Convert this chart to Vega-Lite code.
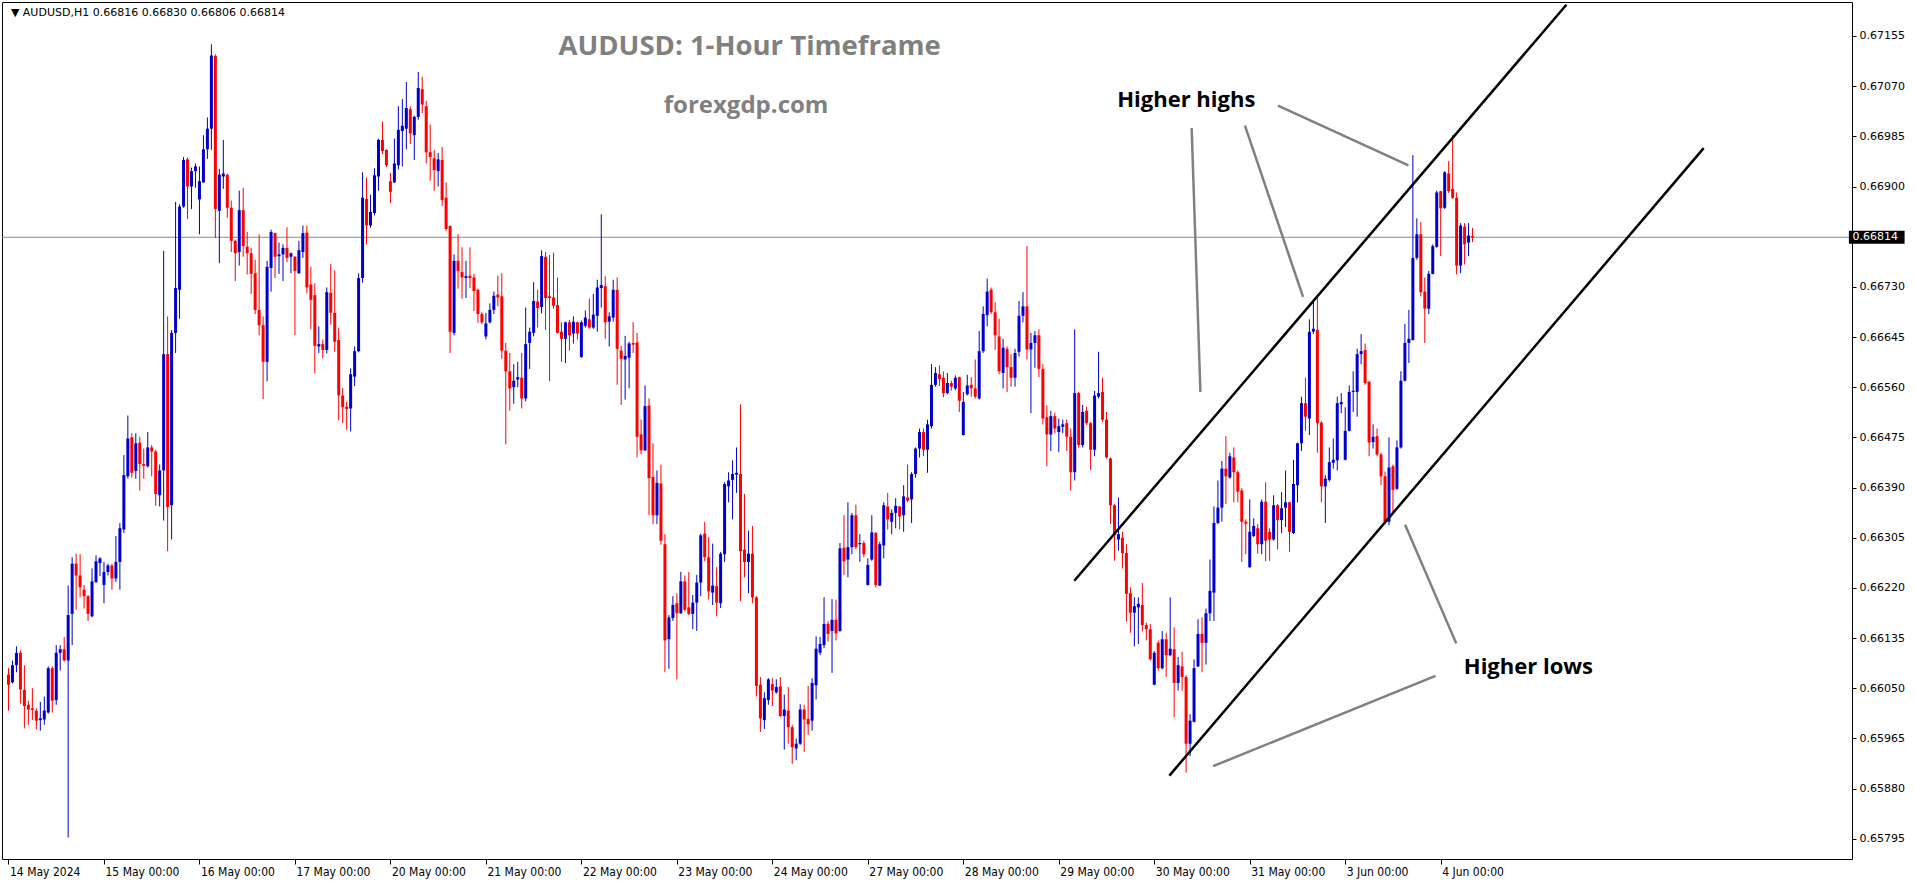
{
"$schema": "https://vega.github.io/schema/vega-lite/v6.json",
"width": 1850, "height": 857,
"autosize": {"type": "none"},
"padding": {"left": 2, "top": 2, "right": 64, "bottom": 25},
"background": "white",
"config": {
 "view": {"stroke": "#000000", "strokeWidth": 1},
 "axis": {"grid": false, "domain": false, "tickColor": "#000000", "labelColor": "#000000", "labelOverlap": false, "labelFlush": false, "labelBound": false},
 "axisX": {"labelAlign": "left", "labelBaseline": "top", "labelPadding": 2, "labelOffset": 1, "labelFont": "Liberation Sans Narrow, DejaVu Sans Condensed, Liberation Sans, sans-serif", "labelFontSize": 12, "tickSize": 5},
 "axisY": {"labelFont": "DejaVu Sans", "labelFontSize": 11, "tickSize": 4, "labelPadding": 3}
},
"datasets": {
"bars": [
{"i":0,"o":0.66073,"h":0.66084,"l":0.66012,"c":0.66056},
{"i":1,"o":0.66060,"h":0.66097,"l":0.66058,"c":0.66089},
{"i":2,"o":0.66089,"h":0.66121,"l":0.66077,"c":0.66110},
{"i":3,"o":0.66110,"h":0.66114,"l":0.66024,"c":0.66048},
{"i":4,"o":0.66047,"h":0.66089,"l":0.65982,"c":0.66020},
{"i":5,"o":0.66022,"h":0.66029,"l":0.65988,"c":0.66014},
{"i":6,"o":0.66016,"h":0.66050,"l":0.65996,"c":0.66013},
{"i":7,"o":0.66012,"h":0.66016,"l":0.65980,"c":0.65995},
{"i":8,"o":0.65996,"h":0.66027,"l":0.65978,"c":0.65999},
{"i":9,"o":0.65997,"h":0.66036,"l":0.65988,"c":0.66012},
{"i":10,"o":0.66009,"h":0.66087,"l":0.66007,"c":0.66084},
{"i":11,"o":0.66084,"h":0.66087,"l":0.66009,"c":0.66029},
{"i":12,"o":0.66030,"h":0.66123,"l":0.66022,"c":0.66110},
{"i":13,"o":0.66110,"h":0.66123,"l":0.66080,"c":0.66116},
{"i":14,"o":0.66116,"h":0.66137,"l":0.66095,"c":0.66097},
{"i":15,"o":0.66097,"h":0.66224,"l":0.65797,"c":0.66174},
{"i":16,"o":0.66176,"h":0.66272,"l":0.66123,"c":0.66261},
{"i":17,"o":0.66261,"h":0.66278,"l":0.66183,"c":0.66241},
{"i":18,"o":0.66241,"h":0.66277,"l":0.66204,"c":0.66221},
{"i":19,"o":0.66217,"h":0.66225,"l":0.66185,"c":0.66206},
{"i":20,"o":0.66206,"h":0.66208,"l":0.66164,"c":0.66176},
{"i":21,"o":0.66172,"h":0.66253,"l":0.66170,"c":0.66231},
{"i":22,"o":0.66230,"h":0.66275,"l":0.66228,"c":0.66265},
{"i":23,"o":0.66262,"h":0.66272,"l":0.66240,"c":0.66270},
{"i":24,"o":0.66225,"h":0.66264,"l":0.66194,"c":0.66247},
{"i":25,"o":0.66247,"h":0.66261,"l":0.66241,"c":0.66258},
{"i":26,"o":0.66258,"h":0.66261,"l":0.66217,"c":0.66236},
{"i":27,"o":0.66236,"h":0.66308,"l":0.66230,"c":0.66264},
{"i":28,"o":0.66264,"h":0.66330,"l":0.66217,"c":0.66321},
{"i":29,"o":0.66319,"h":0.66445,"l":0.66313,"c":0.66411},
{"i":30,"o":0.66409,"h":0.66512,"l":0.66405,"c":0.66473},
{"i":31,"o":0.66475,"h":0.66482,"l":0.66407,"c":0.66415},
{"i":32,"o":0.66418,"h":0.66482,"l":0.66405,"c":0.66465},
{"i":33,"o":0.66466,"h":0.66476,"l":0.66385,"c":0.66430},
{"i":34,"o":0.66430,"h":0.66456,"l":0.66405,"c":0.66427},
{"i":35,"o":0.66426,"h":0.66484,"l":0.66424,"c":0.66458},
{"i":36,"o":0.66458,"h":0.66462,"l":0.66409,"c":0.66451},
{"i":37,"o":0.66451,"h":0.66454,"l":0.66359,"c":0.66379},
{"i":38,"o":0.66377,"h":0.66429,"l":0.66358,"c":0.66419},
{"i":39,"o":0.66419,"h":0.66791,"l":0.66334,"c":0.66616},
{"i":40,"o":0.66616,"h":0.66680,"l":0.66282,"c":0.66357},
{"i":41,"o":0.66360,"h":0.66657,"l":0.66302,"c":0.66652},
{"i":42,"o":0.66652,"h":0.66874,"l":0.66618,"c":0.66728},
{"i":43,"o":0.66725,"h":0.66870,"l":0.66676,"c":0.66866},
{"i":44,"o":0.66866,"h":0.66950,"l":0.66864,"c":0.66945},
{"i":45,"o":0.66946,"h":0.66949,"l":0.66845,"c":0.66900},
{"i":46,"o":0.66900,"h":0.66932,"l":0.66862,"c":0.66926},
{"i":47,"o":0.66926,"h":0.66939,"l":0.66898,"c":0.66934},
{"i":48,"o":0.66878,"h":0.66934,"l":0.66819,"c":0.66909},
{"i":49,"o":0.66907,"h":0.66987,"l":0.66906,"c":0.66963},
{"i":50,"o":0.66963,"h":0.67017,"l":0.66947,"c":0.66998},
{"i":51,"o":0.66998,"h":0.67141,"l":0.66962,"c":0.67122},
{"i":52,"o":0.67121,"h":0.67124,"l":0.66813,"c":0.66862},
{"i":53,"o":0.66859,"h":0.66930,"l":0.66770,"c":0.66920},
{"i":54,"o":0.66917,"h":0.66979,"l":0.66896,"c":0.66922},
{"i":55,"o":0.66920,"h":0.66922,"l":0.66847,"c":0.66864},
{"i":56,"o":0.66864,"h":0.66876,"l":0.66789,"c":0.66808},
{"i":57,"o":0.66808,"h":0.66810,"l":0.66740,"c":0.66787},
{"i":58,"o":0.66789,"h":0.66893,"l":0.66766,"c":0.66860},
{"i":59,"o":0.66860,"h":0.66898,"l":0.66781,"c":0.66799},
{"i":60,"o":0.66798,"h":0.66823,"l":0.66751,"c":0.66787},
{"i":61,"o":0.66787,"h":0.66796,"l":0.66718,"c":0.66752},
{"i":62,"o":0.66753,"h":0.66776,"l":0.66684,"c":0.66691},
{"i":63,"o":0.66691,"h":0.66819,"l":0.66648,"c":0.66665},
{"i":64,"o":0.66665,"h":0.66680,"l":0.66540,"c":0.66603},
{"i":65,"o":0.66603,"h":0.66774,"l":0.66570,"c":0.66764},
{"i":66,"o":0.66762,"h":0.66827,"l":0.66722,"c":0.66823},
{"i":67,"o":0.66821,"h":0.66822,"l":0.66745,"c":0.66781},
{"i":68,"o":0.66782,"h":0.66805,"l":0.66752,"c":0.66785},
{"i":69,"o":0.66785,"h":0.66802,"l":0.66740,"c":0.66796},
{"i":70,"o":0.66796,"h":0.66831,"l":0.66772,"c":0.66779},
{"i":71,"o":0.66781,"h":0.66788,"l":0.66753,"c":0.66787},
{"i":72,"o":0.66781,"h":0.66782,"l":0.66648,"c":0.66757},
{"i":73,"o":0.66753,"h":0.66808,"l":0.66752,"c":0.66792},
{"i":74,"o":0.66789,"h":0.66834,"l":0.66779,"c":0.66821},
{"i":75,"o":0.66822,"h":0.66834,"l":0.66719,"c":0.66729},
{"i":76,"o":0.66734,"h":0.66764,"l":0.66658,"c":0.66708},
{"i":77,"o":0.66716,"h":0.66736,"l":0.66583,"c":0.66630},
{"i":78,"o":0.66629,"h":0.66663,"l":0.66618,"c":0.66633},
{"i":79,"o":0.66633,"h":0.66641,"l":0.66609,"c":0.66623},
{"i":80,"o":0.66623,"h":0.66729,"l":0.66617,"c":0.66721},
{"i":81,"o":0.66720,"h":0.66769,"l":0.66666,"c":0.66686},
{"i":82,"o":0.66686,"h":0.66758,"l":0.66620,"c":0.66637},
{"i":83,"o":0.66640,"h":0.66660,"l":0.66504,"c":0.66546},
{"i":84,"o":0.66546,"h":0.66559,"l":0.66499,"c":0.66526},
{"i":85,"o":0.66527,"h":0.66535,"l":0.66488,"c":0.66523},
{"i":86,"o":0.66524,"h":0.66592,"l":0.66485,"c":0.66582},
{"i":87,"o":0.66578,"h":0.66629,"l":0.66562,"c":0.66621},
{"i":88,"o":0.66621,"h":0.66753,"l":0.66619,"c":0.66745},
{"i":89,"o":0.66745,"h":0.66924,"l":0.66737,"c":0.66881},
{"i":90,"o":0.66879,"h":0.66915,"l":0.66802,"c":0.66834},
{"i":91,"o":0.66834,"h":0.66886,"l":0.66830,"c":0.66857},
{"i":92,"o":0.66855,"h":0.66931,"l":0.66851,"c":0.66919},
{"i":93,"o":0.66917,"h":0.66981,"l":0.66893,"c":0.66979},
{"i":94,"o":0.66979,"h":0.67010,"l":0.66955,"c":0.66960},
{"i":95,"o":0.66962,"h":0.66963,"l":0.66933,"c":0.66936},
{"i":96,"o":0.66909,"h":0.66923,"l":0.66872,"c":0.66891},
{"i":97,"o":0.66907,"h":0.66981,"l":0.66906,"c":0.66939},
{"i":98,"o":0.66936,"h":0.67036,"l":0.66929,"c":0.66996},
{"i":99,"o":0.66994,"h":0.67048,"l":0.66934,"c":0.67003},
{"i":100,"o":0.66998,"h":0.67077,"l":0.66963,"c":0.67033},
{"i":101,"o":0.67031,"h":0.67036,"l":0.66972,"c":0.66990},
{"i":102,"o":0.66987,"h":0.67020,"l":0.66945,"c":0.67018},
{"i":103,"o":0.67018,"h":0.67094,"l":0.67013,"c":0.67067},
{"i":104,"o":0.67065,"h":0.67086,"l":0.67024,"c":0.67039},
{"i":105,"o":0.67036,"h":0.67045,"l":0.66939,"c":0.66958},
{"i":106,"o":0.66958,"h":0.67005,"l":0.66910,"c":0.66950},
{"i":107,"o":0.66948,"h":0.66962,"l":0.66893,"c":0.66928},
{"i":108,"o":0.66926,"h":0.66957,"l":0.66900,"c":0.66946},
{"i":109,"o":0.66945,"h":0.66967,"l":0.66867,"c":0.66877},
{"i":110,"o":0.66881,"h":0.66907,"l":0.66825,"c":0.66828},
{"i":111,"o":0.66833,"h":0.66834,"l":0.66618,"c":0.66654},
{"i":112,"o":0.66652,"h":0.66785,"l":0.66648,"c":0.66774},
{"i":113,"o":0.66774,"h":0.66819,"l":0.66727,"c":0.66757},
{"i":114,"o":0.66755,"h":0.66797,"l":0.66710,"c":0.66746},
{"i":115,"o":0.66745,"h":0.66774,"l":0.66711,"c":0.66748},
{"i":116,"o":0.66749,"h":0.66797,"l":0.66728,"c":0.66745},
{"i":117,"o":0.66746,"h":0.66752,"l":0.66689,"c":0.66723},
{"i":118,"o":0.66725,"h":0.66727,"l":0.66669,"c":0.66684},
{"i":119,"o":0.66684,"h":0.66687,"l":0.66667,"c":0.66670},
{"i":120,"o":0.66646,"h":0.66686,"l":0.66641,"c":0.66668},
{"i":121,"o":0.66670,"h":0.66702,"l":0.66668,"c":0.66691},
{"i":122,"o":0.66691,"h":0.66722,"l":0.66684,"c":0.66715},
{"i":123,"o":0.66717,"h":0.66749,"l":0.66697,"c":0.66712},
{"i":124,"o":0.66714,"h":0.66753,"l":0.66608,"c":0.66622},
{"i":125,"o":0.66622,"h":0.66635,"l":0.66463,"c":0.66587},
{"i":126,"o":0.66587,"h":0.66618,"l":0.66520,"c":0.66558},
{"i":127,"o":0.66560,"h":0.66599,"l":0.66532,"c":0.66571},
{"i":128,"o":0.66573,"h":0.66603,"l":0.66560,"c":0.66577},
{"i":129,"o":0.66576,"h":0.66618,"l":0.66524,"c":0.66541},
{"i":130,"o":0.66541,"h":0.66695,"l":0.66536,"c":0.66633},
{"i":131,"o":0.66635,"h":0.66661,"l":0.66591,"c":0.66654},
{"i":132,"o":0.66652,"h":0.66738,"l":0.66646,"c":0.66706},
{"i":133,"o":0.66705,"h":0.66725,"l":0.66661,"c":0.66694},
{"i":134,"o":0.66696,"h":0.66792,"l":0.66685,"c":0.66782},
{"i":135,"o":0.66781,"h":0.66789,"l":0.66657,"c":0.66711},
{"i":136,"o":0.66714,"h":0.66784,"l":0.66570,"c":0.66711},
{"i":137,"o":0.66712,"h":0.66788,"l":0.66693,"c":0.66698},
{"i":138,"o":0.66699,"h":0.66746,"l":0.66651,"c":0.66652},
{"i":139,"o":0.66654,"h":0.66670,"l":0.66603,"c":0.66642},
{"i":140,"o":0.66642,"h":0.66671,"l":0.66601,"c":0.66670},
{"i":141,"o":0.66670,"h":0.66674,"l":0.66622,"c":0.66648},
{"i":142,"o":0.66651,"h":0.66680,"l":0.66634,"c":0.66671},
{"i":143,"o":0.66670,"h":0.66671,"l":0.66641,"c":0.66651},
{"i":144,"o":0.66611,"h":0.66673,"l":0.66610,"c":0.66670},
{"i":145,"o":0.66664,"h":0.66690,"l":0.66661,"c":0.66678},
{"i":146,"o":0.66675,"h":0.66710,"l":0.66659,"c":0.66661},
{"i":147,"o":0.66661,"h":0.66718,"l":0.66659,"c":0.66683},
{"i":148,"o":0.66681,"h":0.66742,"l":0.66654,"c":0.66729},
{"i":149,"o":0.66728,"h":0.66853,"l":0.66695,"c":0.66733},
{"i":150,"o":0.66731,"h":0.66748,"l":0.66642,"c":0.66670},
{"i":151,"o":0.66671,"h":0.66687,"l":0.66629,"c":0.66680},
{"i":152,"o":0.66678,"h":0.66742,"l":0.66671,"c":0.66725},
{"i":153,"o":0.66725,"h":0.66746,"l":0.66564,"c":0.66625},
{"i":154,"o":0.66622,"h":0.66630,"l":0.66530,"c":0.66608},
{"i":155,"o":0.66607,"h":0.66647,"l":0.66539,"c":0.66613},
{"i":156,"o":0.66610,"h":0.66637,"l":0.66558,"c":0.66634},
{"i":157,"o":0.66635,"h":0.66670,"l":0.66618,"c":0.66632},
{"i":158,"o":0.66636,"h":0.66652,"l":0.66441,"c":0.66476},
{"i":159,"o":0.66480,"h":0.66505,"l":0.66446,"c":0.66453},
{"i":160,"o":0.66453,"h":0.66563,"l":0.66452,"c":0.66528},
{"i":161,"o":0.66529,"h":0.66541,"l":0.66343,"c":0.66406},
{"i":162,"o":0.66408,"h":0.66465,"l":0.66328,"c":0.66343},
{"i":163,"o":0.66343,"h":0.66419,"l":0.66328,"c":0.66398},
{"i":164,"o":0.66397,"h":0.66429,"l":0.66293,"c":0.66300},
{"i":165,"o":0.66294,"h":0.66311,"l":0.66077,"c":0.66131},
{"i":166,"o":0.66133,"h":0.66174,"l":0.66083,"c":0.66170},
{"i":167,"o":0.66169,"h":0.66206,"l":0.66164,"c":0.66191},
{"i":168,"o":0.66194,"h":0.66211,"l":0.66065,"c":0.66177},
{"i":169,"o":0.66177,"h":0.66247,"l":0.66176,"c":0.66231},
{"i":170,"o":0.66231,"h":0.66241,"l":0.66180,"c":0.66183},
{"i":171,"o":0.66187,"h":0.66247,"l":0.66174,"c":0.66176},
{"i":172,"o":0.66176,"h":0.66208,"l":0.66150,"c":0.66195},
{"i":173,"o":0.66195,"h":0.66242,"l":0.66147,"c":0.66229},
{"i":174,"o":0.66229,"h":0.66312,"l":0.66206,"c":0.66309},
{"i":175,"o":0.66312,"h":0.66332,"l":0.66265,"c":0.66272},
{"i":176,"o":0.66272,"h":0.66306,"l":0.66200,"c":0.66214},
{"i":177,"o":0.66212,"h":0.66295,"l":0.66191,"c":0.66224},
{"i":178,"o":0.66223,"h":0.66255,"l":0.66172,"c":0.66195},
{"i":179,"o":0.66194,"h":0.66281,"l":0.66186,"c":0.66278},
{"i":180,"o":0.66277,"h":0.66399,"l":0.66264,"c":0.66396},
{"i":181,"o":0.66392,"h":0.66416,"l":0.66365,"c":0.66402},
{"i":182,"o":0.66403,"h":0.66436,"l":0.66336,"c":0.66413},
{"i":183,"o":0.66412,"h":0.66458,"l":0.66381,"c":0.66415},
{"i":184,"o":0.66413,"h":0.66531,"l":0.66198,"c":0.66282},
{"i":185,"o":0.66285,"h":0.66379,"l":0.66238,"c":0.66264},
{"i":186,"o":0.66264,"h":0.66317,"l":0.66211,"c":0.66278},
{"i":187,"o":0.66278,"h":0.66325,"l":0.66194,"c":0.66204},
{"i":188,"o":0.66204,"h":0.66206,"l":0.66036,"c":0.66054},
{"i":189,"o":0.66056,"h":0.66069,"l":0.65976,"c":0.65999},
{"i":190,"o":0.65996,"h":0.66043,"l":0.65981,"c":0.66033},
{"i":191,"o":0.66030,"h":0.66067,"l":0.66022,"c":0.66065},
{"i":192,"o":0.66057,"h":0.66067,"l":0.66020,"c":0.66046},
{"i":193,"o":0.66043,"h":0.66065,"l":0.66041,"c":0.66052},
{"i":194,"o":0.66053,"h":0.66069,"l":0.66001,"c":0.66003},
{"i":195,"o":0.66003,"h":0.66039,"l":0.65946,"c":0.66014},
{"i":196,"o":0.66012,"h":0.66052,"l":0.65956,"c":0.65984},
{"i":197,"o":0.65984,"h":0.65988,"l":0.65922,"c":0.65950},
{"i":198,"o":0.65948,"h":0.65965,"l":0.65928,"c":0.65956},
{"i":199,"o":0.65956,"h":0.66023,"l":0.65954,"c":0.66014},
{"i":200,"o":0.66014,"h":0.66022,"l":0.65942,"c":0.65997},
{"i":201,"o":0.65998,"h":0.66054,"l":0.65971,"c":0.65989},
{"i":202,"o":0.65995,"h":0.66067,"l":0.65978,"c":0.66059},
{"i":203,"o":0.66055,"h":0.66138,"l":0.66031,"c":0.66117},
{"i":204,"o":0.66110,"h":0.66137,"l":0.66106,"c":0.66125},
{"i":205,"o":0.66123,"h":0.66204,"l":0.66118,"c":0.66159},
{"i":206,"o":0.66159,"h":0.66164,"l":0.66129,"c":0.66142},
{"i":207,"o":0.66147,"h":0.66201,"l":0.66076,"c":0.66166},
{"i":208,"o":0.66166,"h":0.66200,"l":0.66131,"c":0.66143},
{"i":209,"o":0.66147,"h":0.66296,"l":0.66146,"c":0.66287},
{"i":210,"o":0.66288,"h":0.66343,"l":0.66242,"c":0.66265},
{"i":211,"o":0.66268,"h":0.66365,"l":0.66238,"c":0.66289},
{"i":212,"o":0.66289,"h":0.66347,"l":0.66277,"c":0.66343},
{"i":213,"o":0.66343,"h":0.66361,"l":0.66286,"c":0.66289},
{"i":214,"o":0.66294,"h":0.66311,"l":0.66264,"c":0.66296},
{"i":215,"o":0.66296,"h":0.66300,"l":0.66272,"c":0.66277},
{"i":216,"o":0.66225,"h":0.66270,"l":0.66224,"c":0.66259},
{"i":217,"o":0.66268,"h":0.66343,"l":0.66266,"c":0.66314},
{"i":218,"o":0.66313,"h":0.66315,"l":0.66221,"c":0.66225},
{"i":219,"o":0.66224,"h":0.66298,"l":0.66223,"c":0.66294},
{"i":220,"o":0.66292,"h":0.66365,"l":0.66270,"c":0.66360},
{"i":221,"o":0.66358,"h":0.66381,"l":0.66319,"c":0.66336},
{"i":222,"o":0.66332,"h":0.66353,"l":0.66311,"c":0.66347},
{"i":223,"o":0.66347,"h":0.66372,"l":0.66321,"c":0.66359},
{"i":224,"o":0.66358,"h":0.66359,"l":0.66319,"c":0.66341},
{"i":225,"o":0.66343,"h":0.66394,"l":0.66315,"c":0.66375},
{"i":226,"o":0.66373,"h":0.66429,"l":0.66365,"c":0.66368},
{"i":227,"o":0.66370,"h":0.66416,"l":0.66330,"c":0.66413},
{"i":228,"o":0.66413,"h":0.66458,"l":0.66407,"c":0.66456},
{"i":229,"o":0.66456,"h":0.66490,"l":0.66441,"c":0.66484},
{"i":230,"o":0.66484,"h":0.66490,"l":0.66443,"c":0.66454},
{"i":231,"o":0.66454,"h":0.66505,"l":0.66415,"c":0.66497},
{"i":232,"o":0.66494,"h":0.66599,"l":0.66490,"c":0.66564},
{"i":233,"o":0.66564,"h":0.66594,"l":0.66561,"c":0.66584},
{"i":234,"o":0.66582,"h":0.66597,"l":0.66562,"c":0.66574},
{"i":235,"o":0.66576,"h":0.66587,"l":0.66543,"c":0.66550},
{"i":236,"o":0.66550,"h":0.66584,"l":0.66548,"c":0.66567},
{"i":237,"o":0.66567,"h":0.66571,"l":0.66554,"c":0.66561},
{"i":238,"o":0.66558,"h":0.66580,"l":0.66555,"c":0.66576},
{"i":239,"o":0.66577,"h":0.66578,"l":0.66518,"c":0.66537},
{"i":240,"o":0.66479,"h":0.66552,"l":0.66478,"c":0.66535},
{"i":241,"o":0.66548,"h":0.66581,"l":0.66546,"c":0.66563},
{"i":242,"o":0.66564,"h":0.66577,"l":0.66544,"c":0.66558},
{"i":243,"o":0.66558,"h":0.66607,"l":0.66541,"c":0.66544},
{"i":244,"o":0.66541,"h":0.66655,"l":0.66539,"c":0.66621},
{"i":245,"o":0.66621,"h":0.66697,"l":0.66618,"c":0.66684},
{"i":246,"o":0.66682,"h":0.66744,"l":0.66663,"c":0.66722},
{"i":247,"o":0.66725,"h":0.66729,"l":0.66684,"c":0.66687},
{"i":248,"o":0.66687,"h":0.66704,"l":0.66623,"c":0.66648},
{"i":249,"o":0.66646,"h":0.66676,"l":0.66582,"c":0.66587},
{"i":250,"o":0.66584,"h":0.66642,"l":0.66558,"c":0.66627},
{"i":251,"o":0.66625,"h":0.66629,"l":0.66552,"c":0.66594},
{"i":252,"o":0.66594,"h":0.66616,"l":0.66561,"c":0.66576},
{"i":253,"o":0.66576,"h":0.66625,"l":0.66561,"c":0.66618},
{"i":254,"o":0.66620,"h":0.66706,"l":0.66612,"c":0.66681},
{"i":255,"o":0.66681,"h":0.66721,"l":0.66670,"c":0.66697},
{"i":256,"o":0.66697,"h":0.66799,"l":0.66607,"c":0.66624},
{"i":257,"o":0.66624,"h":0.66652,"l":0.66516,"c":0.66635},
{"i":258,"o":0.66635,"h":0.66655,"l":0.66593,"c":0.66648},
{"i":259,"o":0.66648,"h":0.66658,"l":0.66577,"c":0.66591},
{"i":260,"o":0.66591,"h":0.66599,"l":0.66497,"c":0.66507},
{"i":261,"o":0.66509,"h":0.66529,"l":0.66426,"c":0.66480},
{"i":262,"o":0.66480,"h":0.66520,"l":0.66452,"c":0.66511},
{"i":263,"o":0.66511,"h":0.66517,"l":0.66482,"c":0.66490},
{"i":264,"o":0.66484,"h":0.66507,"l":0.66450,"c":0.66494},
{"i":265,"o":0.66493,"h":0.66505,"l":0.66482,"c":0.66497},
{"i":266,"o":0.66499,"h":0.66505,"l":0.66452,"c":0.66476},
{"i":267,"o":0.66476,"h":0.66490,"l":0.66385,"c":0.66416},
{"i":268,"o":0.66416,"h":0.66658,"l":0.66402,"c":0.66550},
{"i":269,"o":0.66550,"h":0.66552,"l":0.66458,"c":0.66462},
{"i":270,"o":0.66462,"h":0.66530,"l":0.66458,"c":0.66518},
{"i":271,"o":0.66520,"h":0.66527,"l":0.66496,"c":0.66499},
{"i":272,"o":0.66499,"h":0.66501,"l":0.66420,"c":0.66454},
{"i":273,"o":0.66454,"h":0.66554,"l":0.66443,"c":0.66546},
{"i":274,"o":0.66544,"h":0.66620,"l":0.66541,"c":0.66550},
{"i":275,"o":0.66552,"h":0.66576,"l":0.66501,"c":0.66505},
{"i":276,"o":0.66505,"h":0.66518,"l":0.66439,"c":0.66441},
{"i":277,"o":0.66439,"h":0.66441,"l":0.66328,"c":0.66360},
{"i":278,"o":0.66360,"h":0.66362,"l":0.66266,"c":0.66309},
{"i":279,"o":0.66302,"h":0.66373,"l":0.66283,"c":0.66311},
{"i":280,"o":0.66305,"h":0.66315,"l":0.66253,"c":0.66279},
{"i":281,"o":0.66279,"h":0.66294,"l":0.66163,"c":0.66210},
{"i":282,"o":0.66211,"h":0.66221,"l":0.66144,"c":0.66178},
{"i":283,"o":0.66178,"h":0.66204,"l":0.66121,"c":0.66189},
{"i":284,"o":0.66187,"h":0.66204,"l":0.66125,"c":0.66193},
{"i":285,"o":0.66191,"h":0.66228,"l":0.66146,"c":0.66157},
{"i":286,"o":0.66157,"h":0.66161,"l":0.66131,"c":0.66150},
{"i":287,"o":0.66150,"h":0.66159,"l":0.66097,"c":0.66099},
{"i":288,"o":0.66056,"h":0.66113,"l":0.66055,"c":0.66110},
{"i":289,"o":0.66127,"h":0.66131,"l":0.66080,"c":0.66084},
{"i":290,"o":0.66084,"h":0.66147,"l":0.66082,"c":0.66133},
{"i":291,"o":0.66133,"h":0.66144,"l":0.66069,"c":0.66106},
{"i":292,"o":0.66106,"h":0.66204,"l":0.66104,"c":0.66117},
{"i":293,"o":0.66116,"h":0.66153,"l":0.66001,"c":0.66059},
{"i":294,"o":0.66059,"h":0.66103,"l":0.66046,"c":0.66089},
{"i":295,"o":0.66087,"h":0.66112,"l":0.66046,"c":0.66069},
{"i":296,"o":0.66069,"h":0.66072,"l":0.65907,"c":0.65956},
{"i":297,"o":0.65956,"h":0.66006,"l":0.65935,"c":0.65995},
{"i":298,"o":0.65993,"h":0.66099,"l":0.65992,"c":0.66084},
{"i":299,"o":0.66087,"h":0.66167,"l":0.66086,"c":0.66142},
{"i":300,"o":0.66142,"h":0.66170,"l":0.66077,"c":0.66127},
{"i":301,"o":0.66127,"h":0.66185,"l":0.66090,"c":0.66177},
{"i":302,"o":0.66177,"h":0.66268,"l":0.66164,"c":0.66215},
{"i":303,"o":0.66212,"h":0.66358,"l":0.66164,"c":0.66330},
{"i":304,"o":0.66330,"h":0.66402,"l":0.66328,"c":0.66356},
{"i":305,"o":0.66356,"h":0.66435,"l":0.66332,"c":0.66422},
{"i":306,"o":0.66422,"h":0.66477,"l":0.66362,"c":0.66409},
{"i":307,"o":0.66407,"h":0.66449,"l":0.66405,"c":0.66443},
{"i":308,"o":0.66441,"h":0.66458,"l":0.66365,"c":0.66416},
{"i":309,"o":0.66416,"h":0.66419,"l":0.66365,"c":0.66383},
{"i":310,"o":0.66385,"h":0.66389,"l":0.66264,"c":0.66332},
{"i":311,"o":0.66332,"h":0.66336,"l":0.66277,"c":0.66329},
{"i":312,"o":0.66255,"h":0.66370,"l":0.66254,"c":0.66315},
{"i":313,"o":0.66308,"h":0.66338,"l":0.66306,"c":0.66325},
{"i":314,"o":0.66321,"h":0.66328,"l":0.66278,"c":0.66294},
{"i":315,"o":0.66294,"h":0.66370,"l":0.66277,"c":0.66366},
{"i":316,"o":0.66366,"h":0.66399,"l":0.66265,"c":0.66300},
{"i":317,"o":0.66315,"h":0.66321,"l":0.66266,"c":0.66302},
{"i":318,"o":0.66302,"h":0.66377,"l":0.66300,"c":0.66360},
{"i":319,"o":0.66360,"h":0.66362,"l":0.66285,"c":0.66335},
{"i":320,"o":0.66335,"h":0.66382,"l":0.66313,"c":0.66355},
{"i":321,"o":0.66356,"h":0.66419,"l":0.66323,"c":0.66365},
{"i":322,"o":0.66365,"h":0.66366,"l":0.66281,"c":0.66315},
{"i":323,"o":0.66313,"h":0.66437,"l":0.66311,"c":0.66396},
{"i":324,"o":0.66394,"h":0.66466,"l":0.66365,"c":0.66465},
{"i":325,"o":0.66465,"h":0.66544,"l":0.66452,"c":0.66533},
{"i":326,"o":0.66533,"h":0.66576,"l":0.66486,"c":0.66510},
{"i":327,"o":0.66507,"h":0.66675,"l":0.66479,"c":0.66654},
{"i":328,"o":0.66654,"h":0.66704,"l":0.66650,"c":0.66659},
{"i":329,"o":0.66657,"h":0.66716,"l":0.66449,"c":0.66499},
{"i":330,"o":0.66500,"h":0.66503,"l":0.66365,"c":0.66392},
{"i":331,"o":0.66392,"h":0.66411,"l":0.66330,"c":0.66405},
{"i":332,"o":0.66403,"h":0.66458,"l":0.66400,"c":0.66433},
{"i":333,"o":0.66432,"h":0.66473,"l":0.66422,"c":0.66437},
{"i":334,"o":0.66436,"h":0.66544,"l":0.66419,"c":0.66533},
{"i":335,"o":0.66531,"h":0.66550,"l":0.66516,"c":0.66535},
{"i":336,"o":0.66437,"h":0.66526,"l":0.66436,"c":0.66486},
{"i":337,"o":0.66486,"h":0.66563,"l":0.66485,"c":0.66552},
{"i":338,"o":0.66552,"h":0.66587,"l":0.66518,"c":0.66554},
{"i":339,"o":0.66552,"h":0.66625,"l":0.66510,"c":0.66616},
{"i":340,"o":0.66616,"h":0.66650,"l":0.66599,"c":0.66621},
{"i":341,"o":0.66623,"h":0.66634,"l":0.66564,"c":0.66567},
{"i":342,"o":0.66569,"h":0.66571,"l":0.66443,"c":0.66466},
{"i":343,"o":0.66467,"h":0.66497,"l":0.66456,"c":0.66476},
{"i":344,"o":0.66477,"h":0.66490,"l":0.66443,"c":0.66446},
{"i":345,"o":0.66446,"h":0.66449,"l":0.66394,"c":0.66409},
{"i":346,"o":0.66409,"h":0.66417,"l":0.66328,"c":0.66332},
{"i":347,"o":0.66332,"h":0.66475,"l":0.66326,"c":0.66424},
{"i":348,"o":0.66426,"h":0.66429,"l":0.66347,"c":0.66386},
{"i":349,"o":0.66388,"h":0.66470,"l":0.66386,"c":0.66458},
{"i":350,"o":0.66458,"h":0.66587,"l":0.66456,"c":0.66571},
{"i":351,"o":0.66571,"h":0.66667,"l":0.66570,"c":0.66635},
{"i":352,"o":0.66635,"h":0.66691,"l":0.66601,"c":0.66642},
{"i":353,"o":0.66640,"h":0.66953,"l":0.66639,"c":0.66779},
{"i":354,"o":0.66779,"h":0.66846,"l":0.66776,"c":0.66819},
{"i":355,"o":0.66819,"h":0.66840,"l":0.66714,"c":0.66721},
{"i":356,"o":0.66722,"h":0.66746,"l":0.66635,"c":0.66693},
{"i":357,"o":0.66693,"h":0.66757,"l":0.66684,"c":0.66752},
{"i":358,"o":0.66752,"h":0.66802,"l":0.66751,"c":0.66799},
{"i":359,"o":0.66798,"h":0.66893,"l":0.66796,"c":0.66890},
{"i":360,"o":0.66892,"h":0.66893,"l":0.66782,"c":0.66863},
{"i":361,"o":0.66864,"h":0.66926,"l":0.66862,"c":0.66924},
{"i":362,"o":0.66922,"h":0.66943,"l":0.66889,"c":0.66892},
{"i":363,"o":0.66896,"h":0.66987,"l":0.66879,"c":0.66881},
{"i":364,"o":0.66881,"h":0.66890,"l":0.66751,"c":0.66766},
{"i":365,"o":0.66766,"h":0.66838,"l":0.66753,"c":0.66834},
{"i":366,"o":0.66832,"h":0.66838,"l":0.66768,"c":0.66802},
{"i":367,"o":0.66805,"h":0.66838,"l":0.66782,"c":0.66817},
{"i":368,"o":0.66816,"h":0.66830,"l":0.66806,"c":0.66814}
],
"lines": [
{"kind":"channel","g":"upper","i":267.9,"p":0.66232},
{"kind":"channel","g":"upper","i":391.6,"p":0.67208},
{"kind":"channel","g":"lower","i":291.8,"p":0.65902},
{"kind":"channel","g":"lower","i":426.1,"p":0.66965},
{"kind":"pointer","g":"hh1","i":297.4,"p":0.66999},
{"kind":"pointer","g":"hh1","i":299.6,"p":0.66552},
{"kind":"pointer","g":"hh2","i":310.8,"p":0.67003},
{"kind":"pointer","g":"hh2","i":325.4,"p":0.66713},
{"kind":"pointer","g":"hh3","i":319.1,"p":0.67037},
{"kind":"pointer","g":"hh3","i":351.9,"p":0.66936},
{"kind":"pointer","g":"hl1","i":351.05,"p":0.66327},
{"kind":"pointer","g":"hl1","i":363.9,"p":0.66126},
{"kind":"pointer","g":"hl2","i":302.8,"p":0.65918},
{"kind":"pointer","g":"hl2","i":358.7,"p":0.66071}
],
"notes": [
{"kind":"title","text":"AUDUSD: 1-Hour Timeframe","i":186.3,"p":0.67137},
{"kind":"sub","text":"forexgdp.com","i":185.4,"p":0.67037},
{"kind":"label","text":"Higher highs","i":296.05,"p":0.67047},
{"kind":"label","text":"Higher lows","i":382.05,"p":0.66086},
{"kind":"info","text":"▼ AUDUSD,H1  0.66816 0.66830 0.66806 0.66814","i":0.6,"p":0.67194}
],
"last": [{"price":0.66814}]
},
"layer": [
{"data":{"name":"last"},"mark":{"type":"rule","color":"#7f8fa0","strokeWidth":1},
 "encoding":{"y":{"field":"price","type":"quantitative","title":null,"scale":{"domain":[0.657607,0.672126],"nice":false,"zero":false}}}},
{"data":{"name":"bars"},"mark":{"type":"rule","strokeWidth":1},
 "encoding":{
  "x":{"field":"i","type":"quantitative","title":null,"scale":{"domain":[-0.375,462.125],"nice":false,"zero":false},
   "axis":{"values":[0,24,48,72,96,120,144,168,192,216,240,264,288,312,336,360],
    "labelExpr":"['14 May 2024','15 May 00:00','16 May 00:00','17 May 00:00','20 May 00:00','21 May 00:00','22 May 00:00','23 May 00:00','24 May 00:00','27 May 00:00','28 May 00:00','29 May 00:00','30 May 00:00','31 May 00:00','3 Jun 00:00','4 Jun 00:00'][round(datum.value/24)]",
    "title":null,"grid":false,"domain":false}},
  "y":{"field":"l","type":"quantitative","title":null,"scale":{"domain":[0.657607,0.672126],"nice":false,"zero":false},
   "axis":{"orient":"right","values":[0.65795,0.6588,0.65965,0.6605,0.66135,0.6622,0.66305,0.6639,0.66475,0.6656,0.66645,0.6673,0.669,0.66985,0.6707,0.67155],
    "format":".5f","title":null,"grid":false,"domain":false}},
  "y2":{"field":"h"},
  "color":{"condition":{"test":"datum.c >= datum.o","value":"#0000CD"},"value":"#FF0000"}}},
{"data":{"name":"bars"},"mark":{"type":"bar","size":3},
 "encoding":{
  "x":{"field":"i","type":"quantitative","title":null,"scale":{"domain":[-0.375,462.125],"nice":false,"zero":false}},
  "y":{"field":"o","type":"quantitative","title":null,"scale":{"domain":[0.657607,0.672126],"nice":false,"zero":false}},
  "y2":{"field":"c"},
  "color":{"condition":{"test":"datum.c >= datum.o","value":"#0000CD"},"value":"#FF0000"}}},
{"data":{"name":"lines"},"transform":[{"filter":"datum.kind == 'channel'"}],
 "mark":{"type":"line","color":"#000000","strokeWidth":2.5},
 "encoding":{
  "x":{"field":"i","type":"quantitative","title":null,"scale":{"domain":[-0.375,462.125],"nice":false,"zero":false}},
  "y":{"field":"p","type":"quantitative","title":null,"scale":{"domain":[0.657607,0.672126],"nice":false,"zero":false}},
  "detail":{"field":"g"},"order":{"field":"i"}}},
{"data":{"name":"lines"},"transform":[{"filter":"datum.kind == 'pointer'"}],
 "mark":{"type":"line","color":"#808080","strokeWidth":2.5},
 "encoding":{
  "x":{"field":"i","type":"quantitative","title":null,"scale":{"domain":[-0.375,462.125],"nice":false,"zero":false}},
  "y":{"field":"p","type":"quantitative","title":null,"scale":{"domain":[0.657607,0.672126],"nice":false,"zero":false}},
  "detail":{"field":"g"},"order":{"field":"i"}}},
{"data":{"name":"notes"},"transform":[{"filter":"datum.kind == 'title'"}],
 "mark":{"type":"text","font":"Open Sans","fontWeight":"bold","fontSize":27.5,"color":"#808080","align":"center","baseline":"middle"},
 "encoding":{
  "x":{"field":"i","type":"quantitative","title":null,"scale":{"domain":[-0.375,462.125],"nice":false,"zero":false}},
  "y":{"field":"p","type":"quantitative","title":null,"scale":{"domain":[0.657607,0.672126],"nice":false,"zero":false}},
  "text":{"field":"text"}}},
{"data":{"name":"notes"},"transform":[{"filter":"datum.kind == 'sub'"}],
 "mark":{"type":"text","font":"Open Sans","fontWeight":"bold","fontSize":24,"color":"#808080","align":"center","baseline":"middle"},
 "encoding":{
  "x":{"field":"i","type":"quantitative","title":null,"scale":{"domain":[-0.375,462.125],"nice":false,"zero":false}},
  "y":{"field":"p","type":"quantitative","title":null,"scale":{"domain":[0.657607,0.672126],"nice":false,"zero":false}},
  "text":{"field":"text"}}},
{"data":{"name":"notes"},"transform":[{"filter":"datum.kind == 'label'"}],
 "mark":{"type":"text","font":"Open Sans","fontWeight":"bold","fontSize":22,"color":"#000000","align":"center","baseline":"middle"},
 "encoding":{
  "x":{"field":"i","type":"quantitative","title":null,"scale":{"domain":[-0.375,462.125],"nice":false,"zero":false}},
  "y":{"field":"p","type":"quantitative","title":null,"scale":{"domain":[0.657607,0.672126],"nice":false,"zero":false}},
  "text":{"field":"text"}}},
{"data":{"name":"notes"},"transform":[{"filter":"datum.kind == 'info'"}],
 "mark":{"type":"text","font":"DejaVu Sans","fontSize":11,"color":"#000000","align":"left","baseline":"middle"},
 "encoding":{
  "x":{"field":"i","type":"quantitative","title":null,"scale":{"domain":[-0.375,462.125],"nice":false,"zero":false}},
  "y":{"field":"p","type":"quantitative","title":null,"scale":{"domain":[0.657607,0.672126],"nice":false,"zero":false}},
  "text":{"field":"text"}}},
{"data":{"name":"last"},"mark":{"type":"rule","color":"#000000","strokeWidth":13,"strokeCap":"butt"},
 "encoding":{
  "x":{"datum":462.6,"type":"quantitative","title":null,"scale":{"domain":[-0.375,462.125],"nice":false,"zero":false}},
  "x2":{"datum":476.6},
  "y":{"field":"price","type":"quantitative","title":null,"scale":{"domain":[0.657607,0.672126],"nice":false,"zero":false}}}},
{"data":{"name":"last"},"mark":{"type":"text","font":"DejaVu Sans","fontSize":11,"color":"#FFFFFF","align":"left","baseline":"middle"},
 "encoding":{
  "x":{"datum":463.5,"type":"quantitative","title":null,"scale":{"domain":[-0.375,462.125],"nice":false,"zero":false}},
  "y":{"field":"price","type":"quantitative","title":null,"scale":{"domain":[0.657607,0.672126],"nice":false,"zero":false}},
  "text":{"field":"price","format":".5f"}}}
]
}
